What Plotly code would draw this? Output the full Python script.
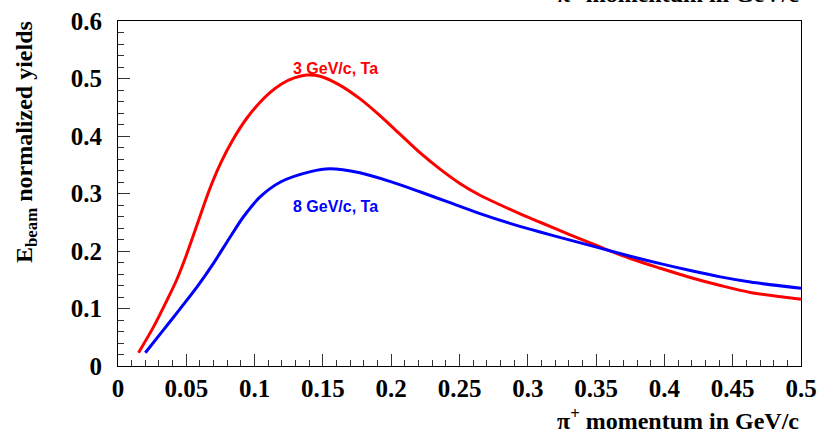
import plotly.graph_objects as go

# pi+ yield curves (E_beam-normalised) for a Ta target
mom_3gev = [0.015, 0.026, 0.036, 0.043, 0.049, 0.055, 0.061, 0.067, 0.075, 0.084,
            0.094, 0.103, 0.111, 0.120, 0.129, 0.138, 0.148, 0.162, 0.177, 0.192,
            0.206, 0.221, 0.236, 0.250, 0.265, 0.280, 0.294, 0.309, 0.331, 0.353,
            0.375, 0.397, 0.419, 0.441, 0.463, 0.500]
yield_3gev = [0.023, 0.068, 0.115, 0.150, 0.186, 0.226, 0.267, 0.307, 0.352, 0.393,
              0.430, 0.456, 0.475, 0.491, 0.501, 0.506, 0.504, 0.489, 0.465, 0.435,
              0.404, 0.371, 0.342, 0.318, 0.297, 0.280, 0.265, 0.250, 0.228, 0.207,
              0.187, 0.170, 0.154, 0.140, 0.128, 0.116]

mom_8gev = [0.020, 0.033, 0.045, 0.058, 0.070, 0.082, 0.092, 0.104, 0.119, 0.141,
            0.155, 0.177, 0.199, 0.221, 0.243, 0.265, 0.287, 0.309, 0.331, 0.353,
            0.375, 0.397, 0.419, 0.441, 0.463, 0.500]
yield_8gev = [0.023, 0.062, 0.098, 0.138, 0.179, 0.224, 0.260, 0.294, 0.320, 0.338,
              0.343, 0.336, 0.321, 0.303, 0.284, 0.265, 0.248, 0.233, 0.219, 0.205,
              0.191, 0.178, 0.166, 0.155, 0.146, 0.135]

x_tick_vals = [0, 0.05, 0.1, 0.15, 0.2, 0.25, 0.3, 0.35, 0.4, 0.45, 0.5]
x_tick_text = ["0", "0.05", "0.1", "0.15", "0.2", "0.25", "0.3", "0.35", "0.4", "0.45", "0.5"]
y_tick_vals = [0, 0.1, 0.2, 0.3, 0.4, 0.5, 0.6]
y_tick_text = ["0", "0.1", "0.2", "0.3", "0.4", "0.5", "0.6"]

label_3gev = "3 GeV/c, Ta"
label_8gev = "8 GeV/c, Ta"
x_title = "π<sup>+</sup> momentum in GeV/c"
y_title = "E<sub>beam</sub> normalized yields"

SERIF = "Liberation Serif"
SANS = "Liberation Sans"

fig = go.Figure()
fig.add_trace(go.Scatter(x=mom_3gev, y=yield_3gev, mode="lines",
                         line=dict(color="#ff0000", width=3, shape="spline", smoothing=0.85),
                         showlegend=False, hoverinfo="skip"))
fig.add_trace(go.Scatter(x=mom_8gev, y=yield_8gev, mode="lines",
                         line=dict(color="#0000ff", width=3, shape="spline", smoothing=0.85),
                         showlegend=False, hoverinfo="skip"))

tick_font = dict(family=SERIF, size=25, color="black", weight="bold")

fig.update_xaxes(range=[0, 0.5], tickvals=x_tick_vals, ticktext=x_tick_text,
                 ticks="inside", ticklen=12, tickwidth=1, tickcolor="#333",
                 minor=dict(dtick=0.01, tick0=0, ticks="inside", ticklen=6,
                            tickwidth=1, tickcolor="#333"),
                 showline=True, linecolor="black", linewidth=1, mirror=True,
                 showgrid=False, zeroline=False, tickfont=tick_font,
                 ticklabelstandoff=0, automargin=False)
fig.update_yaxes(range=[0, 0.6], tickvals=y_tick_vals, ticktext=y_tick_text,
                 ticks="inside", ticklen=12, tickwidth=1, tickcolor="#333",
                 minor=dict(dtick=0.02, tick0=0, ticks="inside", ticklen=6,
                            tickwidth=1, tickcolor="#333"),
                 showline=True, linecolor="black", linewidth=1, mirror=True,
                 showgrid=False, zeroline=False, tickfont=tick_font,
                 ticklabelstandoff=10, automargin=False)

title_font = dict(family=SERIF, size=24, color="black", weight="bold")
curve_font = dict(family=SANS, size=16, weight="bold")

fig.add_annotation(text=label_3gev, x=0.159, y=0.518, xref="x", yref="y",
                   showarrow=False, font=dict(curve_font, color="#ff0000"))
fig.add_annotation(text=label_8gev, x=0.159, y=0.277, xref="x", yref="y",
                   showarrow=False, font=dict(curve_font, color="#0000ff"))

# axis titles placed ROOT-style at the far ends of the axes
fig.add_annotation(text=x_title, x=1, y=0, xref="paper", yref="paper",
                   xanchor="right", yanchor="top", yshift=-36,
                   showarrow=False, font=title_font)
fig.add_annotation(text=x_title, x=1, y=1, xref="paper", yref="paper",
                   xanchor="right", yanchor="top", yshift=46,
                   showarrow=False, font=title_font)
fig.add_annotation(text=y_title, x=0, y=1, xref="paper", yref="paper",
                   xanchor="center", yanchor="top", xshift=-92, yshift=2,
                   textangle=-90, showarrow=False, font=title_font)

fig.update_layout(width=818, height=437,
                  margin=dict(l=118, r=17, t=21, b=71, pad=0),
                  plot_bgcolor="white", paper_bgcolor="white")

fig.write_html("out.html")
